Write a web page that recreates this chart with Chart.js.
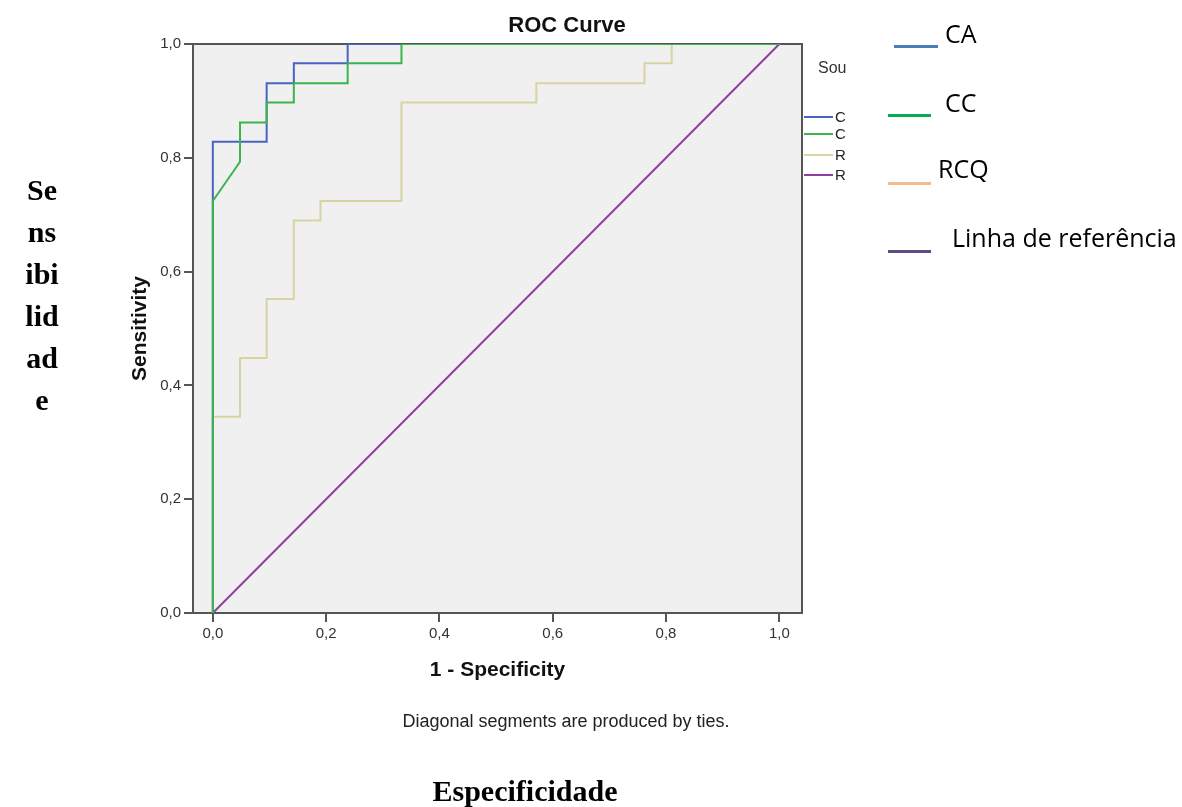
<!DOCTYPE html>
<html>
<head>
<meta charset="utf-8">
<title>ROC Curve</title>
<script src="https://cdn.jsdelivr.net/npm/chart.js@4/dist/chart.umd.min.js"></script>
<style>
  html, body { margin: 0; padding: 0; background: #fff; }
  #wrap { position: relative; width: 1182px; height: 807px; overflow: hidden; }
  #chart { position: absolute; left: 0; top: 0; }
  .txt { position: absolute; white-space: nowrap; line-height: 1; }
  .sans { font-family: "Liberation Sans", Arial, sans-serif; }
  .serif { font-family: "Liberation Serif", "Times New Roman", serif; font-weight: bold; color: #000; }
  .leg { font-family: "Open Sans", "Noto Sans", sans-serif; font-size: 25px; color: #000; }
  .bar { position: absolute; height: 3px; }
  #spssLegend { position: absolute; left: 803px; top: 50px; width: 43px; height: 140px; overflow: hidden; }
  #spssLegend .ln { position: absolute; left: 1px; width: 29px; height: 2px; }
  #spssLegend .lb { position: absolute; left: 32px; font-size: 15px; color: #222; }
</style>
</head>
<body>
<div id="wrap">
  <canvas id="chart" width="1182" height="807"></canvas>

  <div class="txt sans" style="left:467px; width:200px; text-align:center; top:14px; font-size:22px; font-weight:bold; color:#111;">ROC Curve</div>
  <div class="txt sans" style="left:366px; width:400px; text-align:center; top:712px; font-size:18px; color:#222;">Diagonal segments are produced by ties.</div>

  <div id="spssLegend">
    <div class="txt sans" style="left:15px; top:10px; font-size:16px; color:#333;">Source of the Curve</div>
    <div class="ln" style="top:66px; background:#4a62c0;"></div>
    <div class="txt sans lb" style="top:59px;">CA</div>
    <div class="ln" style="top:83px; background:#3cb44b;"></div>
    <div class="txt sans lb" style="top:76px;">CC</div>
    <div class="ln" style="top:104px; background:#d8d3a2;"></div>
    <div class="txt sans lb" style="top:97px;">RCQ</div>
    <div class="ln" style="top:124px; background:#8e3e9e;"></div>
    <div class="txt sans lb" style="top:117px;">Reference Line</div>
  </div>

  <div class="bar" style="left:894px; width:44px; top:45px; background:#4a7ebb;"></div>
  <div class="txt leg" style="left:945px; top:21px;">CA</div>
  <div class="bar" style="left:888px; width:43px; top:114px; background:#00b050;"></div>
  <div class="txt leg" style="left:945px; top:90px;">CC</div>
  <div class="bar" style="left:888px; width:43px; top:182px; background:#f8b98b;"></div>
  <div class="txt leg" style="left:938px; top:156px;">RCQ</div>
  <div class="bar" style="left:888px; width:43px; top:250px; background:#5e4b83;"></div>
  <div class="txt leg" style="left:952px; top:225px;">Linha de referência</div>

  <div class="txt serif" style="left:11px; width:62px; text-align:center; top:169px; font-size:30px; line-height:42px;">Se<br>ns<br>ibi<br>lid<br>ad<br>e</div>
  <div class="txt serif" style="left:325px; width:400px; text-align:center; top:776px; font-size:30px;">Especificidade</div>
</div>

<script>
/* ===== data: ROC points (1 - specificity, sensitivity) ===== */
const caFpr = [0, 0, 0.095, 0.095, 0.143, 0.143, 0.238, 0.238, 1];
const caTpr = [0, 0.828, 0.828, 0.931, 0.931, 0.966, 0.966, 1, 1];

const ccFpr = [0, 0, 0.048, 0.048, 0.095, 0.095, 0.143, 0.143, 0.238, 0.238, 0.333, 0.333, 1];
const ccTpr = [0, 0.724, 0.793, 0.862, 0.862, 0.897, 0.897, 0.931, 0.931, 0.966, 0.966, 1, 1];

const rcqFpr = [0, 0, 0.048, 0.048, 0.095, 0.095, 0.143, 0.143, 0.190, 0.190, 0.333, 0.333, 0.571, 0.571, 0.762, 0.762, 0.810, 0.810, 1];
const rcqTpr = [0, 0.345, 0.345, 0.448, 0.448, 0.552, 0.552, 0.690, 0.690, 0.724, 0.724, 0.897, 0.897, 0.931, 0.931, 0.966, 0.966, 1, 1];

const refFpr = [0, 1];
const refTpr = [0, 1];

const xTicks = [0, 0.2, 0.4, 0.6, 0.8, 1.0];

/* ===== helpers ===== */
const pts = (xs, ys) => xs.map((x, i) => ({ x: x, y: ys[i] }));
const comma = (v) => Number(v).toFixed(1).replace(".", ",");

// grey plot background + frame around the plot area
const framePlugin = {
  id: "frame",
  beforeDraw(chart) {
    const { ctx, chartArea: a } = chart;
    ctx.save();
    ctx.fillStyle = "#f0f0f0";
    ctx.fillRect(a.left, a.top, a.width, a.height);
    ctx.restore();
  },
  beforeDatasetsDraw(chart) {
    const { ctx, chartArea: a } = chart;
    ctx.save();
    ctx.strokeStyle = "#555";
    ctx.lineWidth = 2;
    ctx.strokeRect(a.left, a.top, a.width, a.height);
    ctx.restore();
  },
};

const line = (label, data, color, order) => ({
  label: label,
  data: data,
  borderColor: color,
  backgroundColor: color,
  borderWidth: 2,
  pointRadius: 0,
  tension: 0,
  fill: false,
  order: order,
});

new Chart(document.getElementById("chart"), {
  type: "line",
  data: {
    datasets: [
      line("CC", pts(ccFpr, ccTpr), "#3cb44b", 0),
      line("CA", pts(caFpr, caTpr), "#4a62c0", 1),
      line("RCQ", pts(rcqFpr, rcqTpr), "#d8d3a2", 2),
      line("Reference Line", pts(refFpr, refTpr), "#8e3e9e", 3),
    ],
  },
  options: {
    responsive: false,
    animation: false,
    events: [],
    layout: { padding: { left: 124, top: 44, right: 380, bottom: 120 } },
    plugins: {
      legend: { display: false },
      title: { display: false },
      tooltip: { enabled: false },
    },
    scales: {
      x: {
        type: "linear",
        position: "bottom",
        min: -0.035,
        max: 1.04,
        afterBuildTicks: (scale) => {
          scale.ticks = xTicks.map((v) => ({ value: v }));
        },
        afterFit: (scale) => {
          scale.height = 74;
        },
        ticks: {
          callback: (v) => comma(v),
          color: "#333",
          padding: 3,
          maxRotation: 0,
          font: { size: 15, family: "'Liberation Sans', Arial, sans-serif" },
        },
        grid: { drawOnChartArea: false, drawTicks: true, tickLength: 9, color: "#555", lineWidth: 2 },
        border: { display: true, color: "#555", width: 2 },
        title: {
          display: true,
          text: "1 - Specificity",
          color: "#111",
          font: { size: 21, weight: "bold", family: "'Liberation Sans', Arial, sans-serif" },
        },
      },
      y: {
        type: "linear",
        position: "left",
        min: 0,
        max: 1,
        ticks: {
          stepSize: 0.2,
          callback: (v) => comma(v),
          color: "#333",
          padding: 3,
          font: { size: 15, family: "'Liberation Sans', Arial, sans-serif" },
        },
        afterFit: (scale) => {
          scale.width = 69;
        },
        grid: { drawOnChartArea: false, drawTicks: true, tickLength: 9, color: "#555", lineWidth: 2 },
        border: { display: true, color: "#555", width: 2 },
        title: {
          display: true,
          text: "Sensitivity",
          color: "#111",
          font: { size: 21, weight: "bold", family: "'Liberation Sans', Arial, sans-serif" },
        },
      },
    },
  },
  plugins: [framePlugin],
});
</script>
</body>
</html>
